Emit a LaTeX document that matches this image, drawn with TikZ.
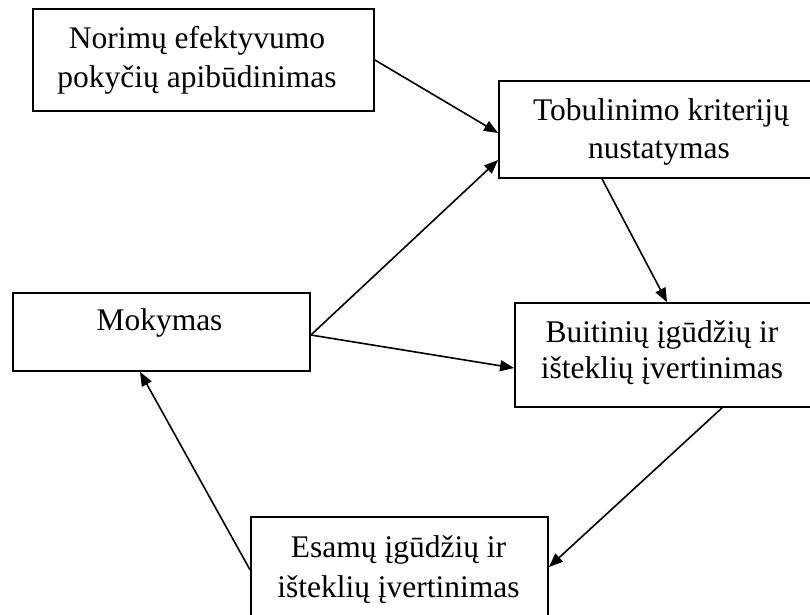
\documentclass[tikz,border=0pt]{standalone}
\usepackage{fontspec}
\setmainfont{Liberation Serif}
\usetikzlibrary{arrows.meta}
\begin{document}
\begin{tikzpicture}[x=1pt,y=-1pt,
  stepbox/.style={draw=black,line width=1.8pt,fill=white,inner sep=0pt,rectangle},
  txt/.style={anchor=base,inner sep=0pt,font=\fontsize{31.5}{39}\selectfont},
  conn/.style={line width=1.6pt,-{Triangle[length=14pt,width=11pt]}}]
\useasboundingbox (0,0) rectangle (810,614);
\fill[white] (0,0) rectangle (810,614);
\clip (0,0) rectangle (810,614);
% boxes
\node[stepbox,minimum width=341pt,minimum height=102pt] (a) at (203.5,60) {};
\node[stepbox,minimum width=316pt,minimum height=97pt] (b) at (657,129.5) {};
\node[stepbox,minimum width=297pt,minimum height=78pt] (m) at (161.5,332) {};
\node[stepbox,minimum width=297pt,minimum height=104pt] (d) at (663.5,355) {};
\node[stepbox,minimum width=297pt,minimum height=113pt] (e) at (399.5,573.5) {};
% texts
\node[txt] (a1) at (197,48) {Norimų efektyvumo};
\node[txt] (a2) at (197,87) {pokyčių apibūdinimas};
\node[txt] (b1) at (661,120) {Tobulinimo kriterijų};
\node[txt] (b2) at (659,158) {nustatymas};
\node[txt] (m1) at (159.5,330) {Mokymas};
\node[txt] (d1) at (662,342) {Buitinių įgūdžių ir};
\node[txt] (d2) at (662,378) {išteklių įvertinimas};
\node[txt] (e1) at (398.5,557) {Esamų įgūdžių ir};
\node[txt] (e2) at (398.5,597) {išteklių įvertinimas};
% connector ends
\coordinate (ms) at ([yshift=-3pt]m.east);
\draw[conn] (a.east) -- ([yshift=-3.5pt]b.west);
\draw[conn] (ms) -- ([yshift=-30.5pt]b.west);
\draw[conn] (ms) -- ([yshift=-13pt]d.west);
\draw[conn] ([xshift=-55pt]b.south) -- ([xshift=3.5pt]d.north);
\draw[conn] ([xshift=58.5pt]d.south) -- ([yshift=6.5pt]e.east);
\draw[conn] ([yshift=3.5pt]e.west) -- ([xshift=-21.5pt]m.south);
\end{tikzpicture}
\end{document}
